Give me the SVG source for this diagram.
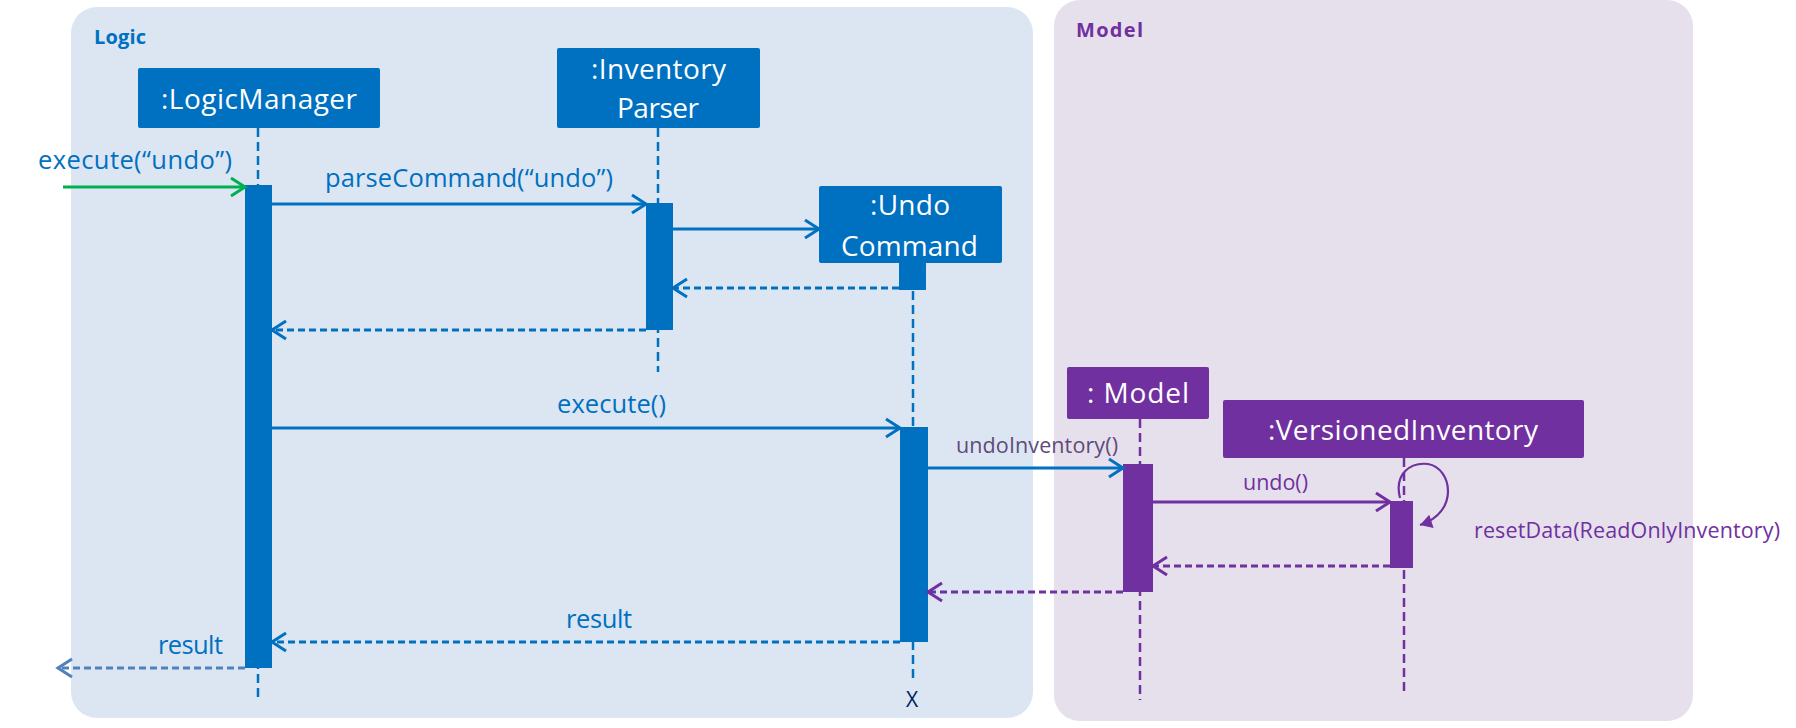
<svg xmlns="http://www.w3.org/2000/svg" width="1796" height="728" viewBox="0 0 1796 728">
<style>
text{font-family:"Open Sans","Noto Sans","Liberation Sans",sans-serif}
.nodeText{fill:#FFFFFF;font-size:28px}
.lbl{fill:#0070C0;font-size:25.5px}
.plbl{fill:#7030A0;font-size:21.5px}
.life{stroke-width:2.5;stroke-dasharray:9 5;fill:none}
.msg{stroke-width:2.8;fill:none}
.ret{stroke-width:2.8;fill:none;stroke-dasharray:7 4}
.blue{stroke:#0070C0}
.purple{stroke:#7030A0}
</style>
<defs>
<marker id="ahBlue" markerUnits="userSpaceOnUse" markerWidth="24" markerHeight="24" refX="17" refY="12" orient="auto"><path d="M3,3 L17,12 L3,21" fill="none" stroke="#0070C0" stroke-width="3"/></marker>
<marker id="ahPurple" markerUnits="userSpaceOnUse" markerWidth="24" markerHeight="24" refX="17" refY="12" orient="auto"><path d="M3,3 L17,12 L3,21" fill="none" stroke="#7030A0" stroke-width="3"/></marker>
<marker id="ahGreen" markerUnits="userSpaceOnUse" markerWidth="24" markerHeight="24" refX="17" refY="12" orient="auto"><path d="M3,3 L17,12 L3,21" fill="none" stroke="#00B050" stroke-width="3"/></marker>
<marker id="ahLight" markerUnits="userSpaceOnUse" markerWidth="24" markerHeight="24" refX="17" refY="12" orient="auto"><path d="M3,3 L17,12 L3,21" fill="none" stroke="#4F81BD" stroke-width="3"/></marker>
<marker id="ahPurpleFill" markerUnits="userSpaceOnUse" markerWidth="20" markerHeight="20" refX="14" refY="10" orient="auto"><path d="M2,3 L14,10 L2,17 Z" fill="#7030A0"/></marker>
</defs>

<g id="logic-frame">
<rect x="71" y="7" width="962" height="711" rx="26" fill="#DCE6F2"/>
<text x="94" y="44" font-size="20" font-weight="bold" fill="#0070C0" textLength="52">Logic</text>
</g>
<g id="model-frame">
<rect x="1054" y="0" width="639" height="721" rx="26" fill="#E6E0EC"/>
<text x="1076" y="37" font-size="20" font-weight="bold" fill="#7030A0" textLength="67">Model</text>
</g>

<g id="lifelines">
<line class="life blue" x1="258" y1="128" x2="258" y2="700"/>
<line class="life blue" x1="658" y1="128" x2="658" y2="372"/>
<line class="life blue" x1="913" y1="263" x2="913" y2="678"/>
<line class="life purple" x1="1140" y1="419" x2="1140" y2="700"/>
<line class="life purple" x1="1404" y1="458" x2="1404" y2="692"/>
</g>

<g id="logicManager">
<rect x="138" y="68" width="242" height="60" rx="2" fill="#0070C0"/>
<text class="nodeText" x="161" y="109" textLength="196">:LogicManager</text>
<rect x="245" y="185" width="27" height="483" fill="#0070C0"/>
</g>

<g id="inventoryParser">
<rect x="557" y="48" width="203" height="80" rx="2" fill="#0070C0"/>
<text class="nodeText" x="591" y="79" textLength="135">:Inventory</text>
<text class="nodeText" x="617" y="118" textLength="82">Parser</text>
<rect x="646" y="203" width="27" height="127" fill="#0070C0"/>
</g>

<g id="undoCommand">
<rect x="819" y="186" width="183" height="77" rx="2" fill="#0070C0"/>
<text class="nodeText" x="870" y="215" textLength="80">:Undo</text>
<text class="nodeText" x="841" y="256" textLength="137">Command</text>
<rect x="899" y="262" width="27" height="28" fill="#0070C0"/>
<rect x="900" y="427" width="28" height="215" fill="#0070C0"/>
<text x="906" y="707" font-size="21" fill="#002060">X</text>
</g>

<g id="model">
<rect x="1067" y="367" width="142" height="52" rx="2" fill="#7030A0"/>
<text class="nodeText" x="1087" y="403" textLength="102">: Model</text>
<rect x="1123" y="464" width="30" height="128" fill="#7030A0"/>
</g>

<g id="versionedInventory">
<rect x="1223" y="400" width="361" height="58" rx="2" fill="#7030A0"/>
<text class="nodeText" x="1268" y="440" textLength="270">:VersionedInventory</text>
<rect x="1390" y="501" width="23" height="67" fill="#7030A0"/>
</g>

<g id="connectors">
<line class="msg" stroke="#00B050" x1="63" y1="187" x2="245" y2="187" marker-end="url(#ahGreen)"/>
<text class="lbl" x="38" y="169" textLength="194">execute(“undo”)</text>

<line class="msg blue" x1="272" y1="204" x2="646" y2="204" marker-end="url(#ahBlue)"/>
<text class="lbl" x="325" y="187" textLength="288">parseCommand(“undo”)</text>

<line class="msg blue" x1="673" y1="229" x2="819" y2="229" marker-end="url(#ahBlue)"/>
<line class="ret blue" x1="899" y1="288" x2="673" y2="288" marker-end="url(#ahBlue)"/>
<line class="ret blue" x1="646" y1="330" x2="272" y2="330" marker-end="url(#ahBlue)"/>

<line class="msg blue" x1="272" y1="428" x2="900" y2="428" marker-end="url(#ahBlue)"/>
<text class="lbl" x="557" y="413" textLength="109">execute()</text>

<line class="msg blue" x1="928" y1="468" x2="1123" y2="468" marker-end="url(#ahBlue)"/>
<text x="956" y="453" font-size="21.5" fill="#604A7B" textLength="162">undoInventory()</text>

<line class="msg purple" x1="1153" y1="502" x2="1390" y2="502" marker-end="url(#ahPurple)"/>
<text class="plbl" x="1243" y="490" textLength="65">undo()</text>

<path d="M1400,498 C1394,474 1410,462 1428,464 C1452,468 1460,512 1420,525" fill="none" stroke="#7030A0" stroke-width="2.2" marker-end="url(#ahPurpleFill)"/>
<text class="plbl" x="1474" y="538" textLength="306">resetData(ReadOnlyInventory)</text>

<line class="ret purple" x1="1390" y1="566" x2="1153" y2="566" marker-end="url(#ahPurple)"/>
<line class="ret purple" x1="1123" y1="592" x2="928" y2="592" marker-end="url(#ahPurple)"/>

<line class="ret blue" x1="900" y1="642" x2="272" y2="642" marker-end="url(#ahBlue)"/>
<text class="lbl" x="566" y="628" textLength="66">result</text>

<line class="ret" stroke="#4F81BD" x1="245" y1="668" x2="58" y2="668" marker-end="url(#ahLight)"/>
<text class="lbl" x="158" y="654" textLength="65">result</text>
</g>
</svg>
